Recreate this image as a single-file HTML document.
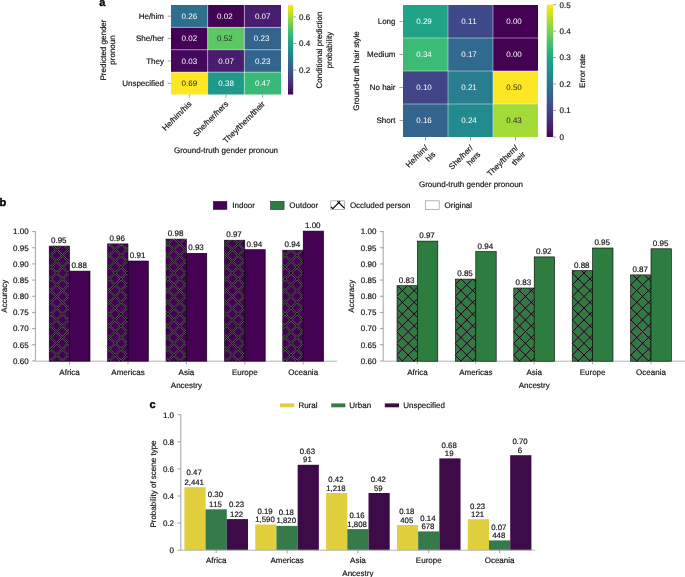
<!DOCTYPE html>
<html><head><meta charset="utf-8"><style>
html,body{margin:0;padding:0;background:#fff;width:685px;height:577px;overflow:hidden}
svg{display:block;will-change:transform}
text{font-family:"Liberation Sans", sans-serif;text-rendering:geometricPrecision;font-variant-ligatures:none;font-kerning:none;stroke:currentColor;stroke-width:0.18px} text.ns{stroke:none} text.pl{stroke-width:0.35px}
</style></head><body>
<svg width="685" height="577" viewBox="0 0 685 577" font-family='"Liberation Sans", sans-serif'><defs><linearGradient id="cb1" x1="0" y1="0" x2="0" y2="1"><stop offset="0.0000" stop-color="#fde725"/><stop offset="0.0323" stop-color="#eae51a"/><stop offset="0.0645" stop-color="#d5e21a"/><stop offset="0.0968" stop-color="#c0df25"/><stop offset="0.1290" stop-color="#a8db34"/><stop offset="0.1613" stop-color="#93d741"/><stop offset="0.1935" stop-color="#7fd34e"/><stop offset="0.2258" stop-color="#6ccd5a"/><stop offset="0.2581" stop-color="#58c765"/><stop offset="0.2903" stop-color="#48c16e"/><stop offset="0.3226" stop-color="#3aba76"/><stop offset="0.3548" stop-color="#2eb37c"/><stop offset="0.3871" stop-color="#25ab82"/><stop offset="0.4194" stop-color="#20a386"/><stop offset="0.4516" stop-color="#1e9c89"/><stop offset="0.4839" stop-color="#1f948c"/><stop offset="0.5161" stop-color="#228c8d"/><stop offset="0.5484" stop-color="#25848e"/><stop offset="0.5806" stop-color="#287d8e"/><stop offset="0.6129" stop-color="#2b758e"/><stop offset="0.6452" stop-color="#2e6d8e"/><stop offset="0.6774" stop-color="#32658e"/><stop offset="0.7097" stop-color="#365d8d"/><stop offset="0.7419" stop-color="#3a548c"/><stop offset="0.7742" stop-color="#3e4a89"/><stop offset="0.8065" stop-color="#424186"/><stop offset="0.8387" stop-color="#453882"/><stop offset="0.8710" stop-color="#472e7c"/><stop offset="0.9032" stop-color="#482374"/><stop offset="0.9355" stop-color="#48186a"/><stop offset="0.9677" stop-color="#470d60"/><stop offset="1.0000" stop-color="#440154"/></linearGradient><linearGradient id="cb2" x1="0" y1="0" x2="0" y2="1"><stop offset="0.0000" stop-color="#fde725"/><stop offset="0.0323" stop-color="#eae51a"/><stop offset="0.0645" stop-color="#d5e21a"/><stop offset="0.0968" stop-color="#c0df25"/><stop offset="0.1290" stop-color="#a8db34"/><stop offset="0.1613" stop-color="#93d741"/><stop offset="0.1935" stop-color="#7fd34e"/><stop offset="0.2258" stop-color="#6ccd5a"/><stop offset="0.2581" stop-color="#58c765"/><stop offset="0.2903" stop-color="#48c16e"/><stop offset="0.3226" stop-color="#3aba76"/><stop offset="0.3548" stop-color="#2eb37c"/><stop offset="0.3871" stop-color="#25ab82"/><stop offset="0.4194" stop-color="#20a386"/><stop offset="0.4516" stop-color="#1e9c89"/><stop offset="0.4839" stop-color="#1f948c"/><stop offset="0.5161" stop-color="#228c8d"/><stop offset="0.5484" stop-color="#25848e"/><stop offset="0.5806" stop-color="#287d8e"/><stop offset="0.6129" stop-color="#2b758e"/><stop offset="0.6452" stop-color="#2e6d8e"/><stop offset="0.6774" stop-color="#32658e"/><stop offset="0.7097" stop-color="#365d8d"/><stop offset="0.7419" stop-color="#3a548c"/><stop offset="0.7742" stop-color="#3e4a89"/><stop offset="0.8065" stop-color="#424186"/><stop offset="0.8387" stop-color="#453882"/><stop offset="0.8710" stop-color="#472e7c"/><stop offset="0.9032" stop-color="#482374"/><stop offset="0.9355" stop-color="#48186a"/><stop offset="0.9677" stop-color="#470d60"/><stop offset="1.0000" stop-color="#440154"/></linearGradient><clipPath id="hc1"><rect x="49.20" y="246.10" width="20.40" height="115.10"/></clipPath><clipPath id="hc2"><rect x="107.60" y="243.90" width="20.40" height="117.30"/></clipPath><clipPath id="hc3"><rect x="166.00" y="239.10" width="20.40" height="122.10"/></clipPath><clipPath id="hc4"><rect x="224.40" y="240.20" width="20.40" height="121.00"/></clipPath><clipPath id="hc5"><rect x="282.80" y="250.20" width="20.40" height="111.00"/></clipPath><clipPath id="hc6"><rect x="397.00" y="285.70" width="20.40" height="75.50"/></clipPath><clipPath id="hc7"><rect x="455.40" y="279.10" width="20.40" height="82.10"/></clipPath><clipPath id="hc8"><rect x="513.80" y="288.00" width="20.40" height="73.20"/></clipPath><clipPath id="hc9"><rect x="572.20" y="270.50" width="20.40" height="90.70"/></clipPath><clipPath id="hc10"><rect x="630.60" y="274.90" width="20.40" height="86.30"/></clipPath></defs><rect width="685" height="577" fill="#fff"/><rect x="171.00" y="5.00" width="36.67" height="22.38" fill="#2e6f8e"/>
<rect x="207.67" y="5.00" width="36.67" height="22.38" fill="#440256"/>
<rect x="244.33" y="5.00" width="36.67" height="22.38" fill="#481d6f"/>
<rect x="171.00" y="27.38" width="36.67" height="22.38" fill="#440256"/>
<rect x="207.67" y="27.38" width="36.67" height="22.38" fill="#5cc863"/>
<rect x="244.33" y="27.38" width="36.67" height="22.38" fill="#32648e"/>
<rect x="171.00" y="49.75" width="36.67" height="22.38" fill="#46085c"/>
<rect x="207.67" y="49.75" width="36.67" height="22.38" fill="#481d6f"/>
<rect x="244.33" y="49.75" width="36.67" height="22.38" fill="#32648e"/>
<rect x="171.00" y="72.12" width="36.67" height="22.38" fill="#fde725"/>
<rect x="207.67" y="72.12" width="36.67" height="22.38" fill="#1f9a8a"/>
<rect x="244.33" y="72.12" width="36.67" height="22.38" fill="#38b977"/>
<line x1="207.67" y1="5.00" x2="207.67" y2="94.50" stroke="rgba(255,255,255,0.75)" stroke-width="0.6"/>
<line x1="244.33" y1="5.00" x2="244.33" y2="94.50" stroke="rgba(255,255,255,0.75)" stroke-width="0.6"/>
<line x1="171.00" y1="27.38" x2="281.00" y2="27.38" stroke="rgba(255,255,255,0.75)" stroke-width="0.6"/>
<line x1="171.00" y1="49.75" x2="281.00" y2="49.75" stroke="rgba(255,255,255,0.75)" stroke-width="0.6"/>
<line x1="171.00" y1="72.12" x2="281.00" y2="72.12" stroke="rgba(255,255,255,0.75)" stroke-width="0.6"/>
<text x="189.33" y="19.09" font-size="8" text-anchor="middle" font-weight="normal" fill="#ffffff" color="#ffffff" class="ns">0.26</text>
<text x="224.90" y="19.09" font-size="8" text-anchor="middle" font-weight="normal" fill="#ffffff" color="#ffffff" class="ns">0.02</text>
<text x="262.67" y="19.09" font-size="8" text-anchor="middle" font-weight="normal" fill="#ffffff" color="#ffffff" class="ns">0.07</text>
<text x="189.33" y="41.46" font-size="8" text-anchor="middle" font-weight="normal" fill="#ffffff" color="#ffffff" class="ns">0.02</text>
<text x="224.90" y="41.46" font-size="8" text-anchor="middle" font-weight="normal" fill="#262626" color="#262626" class="ns">0.52</text>
<text x="261.57" y="41.46" font-size="8" text-anchor="middle" font-weight="normal" fill="#ffffff" color="#ffffff" class="ns">0.23</text>
<text x="189.33" y="63.84" font-size="8" text-anchor="middle" font-weight="normal" fill="#ffffff" color="#ffffff" class="ns">0.03</text>
<text x="226.10" y="63.84" font-size="8" text-anchor="middle" font-weight="normal" fill="#ffffff" color="#ffffff" class="ns">0.07</text>
<text x="262.67" y="63.84" font-size="8" text-anchor="middle" font-weight="normal" fill="#ffffff" color="#ffffff" class="ns">0.23</text>
<text x="189.33" y="86.21" font-size="8" text-anchor="middle" font-weight="normal" fill="#262626" color="#262626" class="ns">0.69</text>
<text x="226.10" y="86.21" font-size="8" text-anchor="middle" font-weight="normal" fill="#ffffff" color="#ffffff" class="ns">0.38</text>
<text x="262.67" y="86.21" font-size="8" text-anchor="middle" font-weight="normal" fill="#ffffff" color="#ffffff" class="ns">0.47</text>
<line x1="167.70" y1="16.19" x2="171.00" y2="16.19" stroke="#8c8c8c" stroke-width="0.8"/>
<text x="164.00" y="19.09" font-size="8" text-anchor="end" font-weight="normal" fill="#141414" color="#141414">He/him</text>
<line x1="167.70" y1="38.56" x2="171.00" y2="38.56" stroke="#8c8c8c" stroke-width="0.8"/>
<text x="164.00" y="41.46" font-size="8" text-anchor="end" font-weight="normal" fill="#141414" color="#141414">She/her</text>
<line x1="167.70" y1="60.94" x2="171.00" y2="60.94" stroke="#8c8c8c" stroke-width="0.8"/>
<text x="164.00" y="63.84" font-size="8" text-anchor="end" font-weight="normal" fill="#141414" color="#141414">They</text>
<line x1="167.70" y1="83.31" x2="171.00" y2="83.31" stroke="#8c8c8c" stroke-width="0.8"/>
<text x="164.00" y="86.21" font-size="8" text-anchor="end" font-weight="normal" fill="#141414" color="#141414">Unspecified</text>
<line x1="189.33" y1="94.50" x2="189.33" y2="97.70" stroke="#8c8c8c" stroke-width="0.8"/>
<text x="192.13" y="104.50" font-size="8" text-anchor="end" font-weight="normal" fill="#141414" color="#141414" transform="rotate(-45 192.13 104.50)">He/him/his</text>
<line x1="226.00" y1="94.50" x2="226.00" y2="97.70" stroke="#8c8c8c" stroke-width="0.8"/>
<text x="228.80" y="104.50" font-size="8" text-anchor="end" font-weight="normal" fill="#141414" color="#141414" transform="rotate(-45 228.80 104.50)">She/her/hers</text>
<line x1="262.67" y1="94.50" x2="262.67" y2="97.70" stroke="#8c8c8c" stroke-width="0.8"/>
<text x="265.47" y="104.50" font-size="8" text-anchor="end" font-weight="normal" fill="#141414" color="#141414" transform="rotate(-45 265.47 104.50)">They/them/their</text>
<text x="226.00" y="153.10" font-size="8" text-anchor="middle" font-weight="normal" fill="#141414" color="#141414">Ground-truth gender pronoun</text>
<text x="105.60" y="50.00" font-size="8" text-anchor="middle" font-weight="normal" fill="#141414" color="#141414" transform="rotate(-90 105.60 50.00)">Predicted gender</text>
<text x="115.40" y="50.00" font-size="8" text-anchor="middle" font-weight="normal" fill="#141414" color="#141414" transform="rotate(-90 115.40 50.00)">pronoun</text>
<rect x="288.00" y="5.00" width="5.20" height="89.50" fill="url(#cb1)"/>
<line x1="293.20" y1="70.07" x2="296.20" y2="70.07" stroke="#8c8c8c" stroke-width="0.8"/>
<text x="299.00" y="72.97" font-size="8" text-anchor="start" font-weight="normal" fill="#141414" color="#141414">0.2</text>
<line x1="293.20" y1="43.51" x2="296.20" y2="43.51" stroke="#8c8c8c" stroke-width="0.8"/>
<text x="299.00" y="46.41" font-size="8" text-anchor="start" font-weight="normal" fill="#141414" color="#141414">0.4</text>
<line x1="293.20" y1="16.95" x2="296.20" y2="16.95" stroke="#8c8c8c" stroke-width="0.8"/>
<text x="299.00" y="19.85" font-size="8" text-anchor="start" font-weight="normal" fill="#141414" color="#141414">0.6</text>
<text x="322.00" y="50.00" font-size="8" text-anchor="middle" font-weight="normal" fill="#141414" color="#141414" transform="rotate(-90 322.00 50.00)">Conditional prediction</text>
<text x="331.50" y="50.00" font-size="8" text-anchor="middle" font-weight="normal" fill="#141414" color="#141414" transform="rotate(-90 331.50 50.00)">probability</text>
<text x="102.40" y="5.80" font-size="11" text-anchor="middle" font-weight="bold" fill="#000" color="#000" class="pl">a</text>
<rect x="403.00" y="5.00" width="45.00" height="33.00" fill="#20a386"/>
<rect x="448.00" y="5.00" width="45.00" height="33.00" fill="#3e4989"/>
<rect x="493.00" y="5.00" width="45.00" height="33.00" fill="#440154"/>
<rect x="403.00" y="38.00" width="45.00" height="33.00" fill="#3bbb75"/>
<rect x="448.00" y="38.00" width="45.00" height="33.00" fill="#306a8e"/>
<rect x="493.00" y="38.00" width="45.00" height="33.00" fill="#440154"/>
<rect x="403.00" y="71.00" width="45.00" height="33.00" fill="#414487"/>
<rect x="448.00" y="71.00" width="45.00" height="33.00" fill="#287d8e"/>
<rect x="493.00" y="71.00" width="45.00" height="33.00" fill="#fde725"/>
<rect x="403.00" y="104.00" width="45.00" height="33.00" fill="#32648e"/>
<rect x="448.00" y="104.00" width="45.00" height="33.00" fill="#228b8d"/>
<rect x="493.00" y="104.00" width="45.00" height="33.00" fill="#a2da37"/>
<line x1="448.00" y1="5.00" x2="448.00" y2="137.00" stroke="rgba(255,255,255,0.75)" stroke-width="0.6"/>
<line x1="493.00" y1="5.00" x2="493.00" y2="137.00" stroke="rgba(255,255,255,0.75)" stroke-width="0.6"/>
<line x1="403.00" y1="38.00" x2="538.00" y2="38.00" stroke="rgba(255,255,255,0.75)" stroke-width="0.6"/>
<line x1="403.00" y1="71.00" x2="538.00" y2="71.00" stroke="rgba(255,255,255,0.75)" stroke-width="0.6"/>
<line x1="403.00" y1="104.00" x2="538.00" y2="104.00" stroke="rgba(255,255,255,0.75)" stroke-width="0.6"/>
<text x="424.00" y="24.40" font-size="8" text-anchor="middle" font-weight="normal" fill="#ffffff" color="#ffffff" class="ns">0.29</text>
<text x="469.00" y="24.40" font-size="8" text-anchor="middle" font-weight="normal" fill="#ffffff" color="#ffffff" class="ns">0.11</text>
<text x="514.00" y="24.40" font-size="8" text-anchor="middle" font-weight="normal" fill="#ffffff" color="#ffffff" class="ns">0.00</text>
<text x="424.00" y="57.40" font-size="8" text-anchor="middle" font-weight="normal" fill="#ffffff" color="#ffffff" class="ns">0.34</text>
<text x="469.00" y="57.40" font-size="8" text-anchor="middle" font-weight="normal" fill="#ffffff" color="#ffffff" class="ns">0.17</text>
<text x="514.00" y="57.40" font-size="8" text-anchor="middle" font-weight="normal" fill="#ffffff" color="#ffffff" class="ns">0.00</text>
<text x="424.00" y="90.40" font-size="8" text-anchor="middle" font-weight="normal" fill="#ffffff" color="#ffffff" class="ns">0.10</text>
<text x="469.00" y="90.40" font-size="8" text-anchor="middle" font-weight="normal" fill="#ffffff" color="#ffffff" class="ns">0.21</text>
<text x="514.00" y="90.40" font-size="8" text-anchor="middle" font-weight="normal" fill="#262626" color="#262626" class="ns">0.50</text>
<text x="424.00" y="123.40" font-size="8" text-anchor="middle" font-weight="normal" fill="#ffffff" color="#ffffff" class="ns">0.16</text>
<text x="469.00" y="123.40" font-size="8" text-anchor="middle" font-weight="normal" fill="#ffffff" color="#ffffff" class="ns">0.24</text>
<text x="514.00" y="123.40" font-size="8" text-anchor="middle" font-weight="normal" fill="#262626" color="#262626" class="ns">0.43</text>
<line x1="399.50" y1="21.50" x2="403.00" y2="21.50" stroke="#8c8c8c" stroke-width="0.8"/>
<text x="395.50" y="24.40" font-size="8" text-anchor="end" font-weight="normal" fill="#141414" color="#141414">Long</text>
<line x1="399.50" y1="54.50" x2="403.00" y2="54.50" stroke="#8c8c8c" stroke-width="0.8"/>
<text x="395.50" y="57.40" font-size="8" text-anchor="end" font-weight="normal" fill="#141414" color="#141414">Medium</text>
<line x1="399.50" y1="87.50" x2="403.00" y2="87.50" stroke="#8c8c8c" stroke-width="0.8"/>
<text x="395.50" y="90.40" font-size="8" text-anchor="end" font-weight="normal" fill="#141414" color="#141414">No hair</text>
<line x1="399.50" y1="120.50" x2="403.00" y2="120.50" stroke="#8c8c8c" stroke-width="0.8"/>
<text x="395.50" y="123.40" font-size="8" text-anchor="end" font-weight="normal" fill="#141414" color="#141414">Short</text>
<line x1="425.50" y1="137.00" x2="425.50" y2="140.50" stroke="#8c8c8c" stroke-width="0.8"/>
<text x="428.50" y="148.50" font-size="8" text-anchor="end" font-weight="normal" fill="#141414" color="#141414" transform="rotate(-45 428.50 148.50)">He/him/</text>
<text x="435.90" y="154.90" font-size="8" text-anchor="end" font-weight="normal" fill="#141414" color="#141414" transform="rotate(-45 435.90 154.90)">his</text>
<line x1="470.50" y1="137.00" x2="470.50" y2="140.50" stroke="#8c8c8c" stroke-width="0.8"/>
<text x="473.50" y="148.50" font-size="8" text-anchor="end" font-weight="normal" fill="#141414" color="#141414" transform="rotate(-45 473.50 148.50)">She/her/</text>
<text x="480.90" y="154.90" font-size="8" text-anchor="end" font-weight="normal" fill="#141414" color="#141414" transform="rotate(-45 480.90 154.90)">hers</text>
<line x1="515.50" y1="137.00" x2="515.50" y2="140.50" stroke="#8c8c8c" stroke-width="0.8"/>
<text x="518.50" y="148.50" font-size="8" text-anchor="end" font-weight="normal" fill="#141414" color="#141414" transform="rotate(-45 518.50 148.50)">They/them/</text>
<text x="525.90" y="154.90" font-size="8" text-anchor="end" font-weight="normal" fill="#141414" color="#141414" transform="rotate(-45 525.90 154.90)">their</text>
<text x="471.00" y="187.30" font-size="8" text-anchor="middle" font-weight="normal" fill="#141414" color="#141414">Ground-truth gender pronoun</text>
<text x="358.60" y="71.00" font-size="8" text-anchor="middle" font-weight="normal" fill="#141414" color="#141414" transform="rotate(-90 358.60 71.00)">Ground-truth hair style</text>
<rect x="546.70" y="4.60" width="6.40" height="132.40" fill="url(#cb2)"/>
<line x1="553.10" y1="137.00" x2="556.10" y2="137.00" stroke="#8c8c8c" stroke-width="0.8"/>
<text x="559.50" y="139.90" font-size="8" text-anchor="start" font-weight="normal" fill="#141414" color="#141414">0</text>
<line x1="553.10" y1="110.52" x2="556.10" y2="110.52" stroke="#8c8c8c" stroke-width="0.8"/>
<text x="559.50" y="113.42" font-size="8" text-anchor="start" font-weight="normal" fill="#141414" color="#141414">0.1</text>
<line x1="553.10" y1="84.04" x2="556.10" y2="84.04" stroke="#8c8c8c" stroke-width="0.8"/>
<text x="559.50" y="86.94" font-size="8" text-anchor="start" font-weight="normal" fill="#141414" color="#141414">0.2</text>
<line x1="553.10" y1="57.56" x2="556.10" y2="57.56" stroke="#8c8c8c" stroke-width="0.8"/>
<text x="559.50" y="60.46" font-size="8" text-anchor="start" font-weight="normal" fill="#141414" color="#141414">0.3</text>
<line x1="553.10" y1="31.08" x2="556.10" y2="31.08" stroke="#8c8c8c" stroke-width="0.8"/>
<text x="559.50" y="33.98" font-size="8" text-anchor="start" font-weight="normal" fill="#141414" color="#141414">0.4</text>
<line x1="553.10" y1="4.60" x2="556.10" y2="4.60" stroke="#8c8c8c" stroke-width="0.8"/>
<text x="559.50" y="7.50" font-size="8" text-anchor="start" font-weight="normal" fill="#141414" color="#141414">0.5</text>
<text x="584.50" y="71.00" font-size="8" text-anchor="middle" font-weight="normal" fill="#141414" color="#141414" transform="rotate(-90 584.50 71.00)">Error rate</text>
<text x="-0.40" y="206.40" font-size="11" text-anchor="start" font-weight="bold" fill="#000" color="#000" class="pl">b</text>
<rect x="213.30" y="201.40" width="13.60" height="8.10" fill="#440154" stroke="#000" stroke-opacity="0.75" stroke-width="0.6"/>
<text x="232.30" y="208.30" font-size="8" text-anchor="start" font-weight="normal" fill="#141414" color="#141414">Indoor</text>
<rect x="270.50" y="201.40" width="13.60" height="8.10" fill="#2e7d40" stroke="#000" stroke-opacity="0.75" stroke-width="0.6"/>
<text x="289.30" y="208.30" font-size="8" text-anchor="start" font-weight="normal" fill="#141414" color="#141414">Outdoor</text>
<rect x="330.8" y="200.8" width="13.8" height="8.6" fill="#fff" stroke="#999" stroke-width="0.7"/>
<g stroke="#000" stroke-width="1.1" fill="none"><path d="M331.1 206.9 L332.8 208.6 L338.8 202.6 L344.6 208.4"/><path d="M337.4 201.2 L338.8 202.6 L340.2 201.2"/></g>
<text x="349.90" y="208.30" font-size="8" text-anchor="start" font-weight="normal" fill="#141414" color="#141414">Occluded person</text>
<rect x="425.6" y="200.8" width="13.6" height="8.6" fill="#fff" stroke="#999" stroke-width="0.7"/>
<text x="444.50" y="208.30" font-size="8" text-anchor="start" font-weight="normal" fill="#141414" color="#141414">Original</text>
<line x1="35.40" y1="231.10" x2="35.40" y2="361.20" stroke="#8c8c8c" stroke-width="0.8"/>
<line x1="35.40" y1="361.20" x2="337.40" y2="361.20" stroke="#b4b4b4" stroke-width="1.0"/>
<line x1="32.10" y1="360.90" x2="35.40" y2="360.90" stroke="#8c8c8c" stroke-width="0.8"/>
<text x="28.60" y="363.70" font-size="8" text-anchor="end" font-weight="normal" fill="#141414" color="#141414">0.60</text>
<line x1="32.10" y1="344.74" x2="35.40" y2="344.74" stroke="#8c8c8c" stroke-width="0.8"/>
<text x="28.60" y="347.54" font-size="8" text-anchor="end" font-weight="normal" fill="#141414" color="#141414">0.65</text>
<line x1="32.10" y1="328.57" x2="35.40" y2="328.57" stroke="#8c8c8c" stroke-width="0.8"/>
<text x="28.60" y="331.38" font-size="8" text-anchor="end" font-weight="normal" fill="#141414" color="#141414">0.70</text>
<line x1="32.10" y1="312.41" x2="35.40" y2="312.41" stroke="#8c8c8c" stroke-width="0.8"/>
<text x="28.60" y="315.21" font-size="8" text-anchor="end" font-weight="normal" fill="#141414" color="#141414">0.75</text>
<line x1="32.10" y1="296.25" x2="35.40" y2="296.25" stroke="#8c8c8c" stroke-width="0.8"/>
<text x="28.60" y="299.05" font-size="8" text-anchor="end" font-weight="normal" fill="#141414" color="#141414">0.80</text>
<line x1="32.10" y1="280.09" x2="35.40" y2="280.09" stroke="#8c8c8c" stroke-width="0.8"/>
<text x="28.60" y="282.89" font-size="8" text-anchor="end" font-weight="normal" fill="#141414" color="#141414">0.85</text>
<line x1="32.10" y1="263.92" x2="35.40" y2="263.92" stroke="#8c8c8c" stroke-width="0.8"/>
<text x="28.60" y="266.72" font-size="8" text-anchor="end" font-weight="normal" fill="#141414" color="#141414">0.90</text>
<line x1="32.10" y1="247.76" x2="35.40" y2="247.76" stroke="#8c8c8c" stroke-width="0.8"/>
<text x="28.60" y="250.56" font-size="8" text-anchor="end" font-weight="normal" fill="#141414" color="#141414">0.95</text>
<line x1="32.10" y1="231.60" x2="35.40" y2="231.60" stroke="#8c8c8c" stroke-width="0.8"/>
<text x="28.60" y="234.40" font-size="8" text-anchor="end" font-weight="normal" fill="#141414" color="#141414">1.00</text>
<rect x="49.20" y="246.10" width="20.40" height="115.10" fill="#440154" stroke="#000" stroke-width="0.6"/>
<g clip-path="url(#hc1)" fill="none"><path d="M46.20 379.84L72.60 406.24M46.20 368.12L72.60 394.52M46.20 356.40L72.60 382.80M46.20 344.68L72.60 371.08M46.20 332.96L72.60 359.36M46.20 321.24L72.60 347.64M46.20 309.52L72.60 335.92M46.20 297.80L72.60 324.20M46.20 286.08L72.60 312.48M46.20 274.36L72.60 300.76M46.20 262.64L72.60 289.04M46.20 250.92L72.60 277.32M46.20 239.20L72.60 265.60M46.20 227.48L72.60 253.88M46.20 215.76L72.60 242.16M46.20 204.04L72.60 230.44M46.20 236.56L72.60 210.16M46.20 248.28L72.60 221.88M46.20 260.00L72.60 233.60M46.20 271.72L72.60 245.32M46.20 283.44L72.60 257.04M46.20 295.16L72.60 268.76M46.20 306.88L72.60 280.48M46.20 318.60L72.60 292.20M46.20 330.32L72.60 303.92M46.20 342.04L72.60 315.64M46.20 353.76L72.60 327.36M46.20 365.48L72.60 339.08M46.20 377.20L72.60 350.80M46.20 388.92L72.60 362.52M46.20 400.64L72.60 374.24" stroke="#606060" stroke-opacity="1" stroke-width="1.9"/><path d="M46.20 379.84L72.60 406.24M46.20 368.12L72.60 394.52M46.20 356.40L72.60 382.80M46.20 344.68L72.60 371.08M46.20 332.96L72.60 359.36M46.20 321.24L72.60 347.64M46.20 309.52L72.60 335.92M46.20 297.80L72.60 324.20M46.20 286.08L72.60 312.48M46.20 274.36L72.60 300.76M46.20 262.64L72.60 289.04M46.20 250.92L72.60 277.32M46.20 239.20L72.60 265.60M46.20 227.48L72.60 253.88M46.20 215.76L72.60 242.16M46.20 204.04L72.60 230.44M46.20 236.56L72.60 210.16M46.20 248.28L72.60 221.88M46.20 260.00L72.60 233.60M46.20 271.72L72.60 245.32M46.20 283.44L72.60 257.04M46.20 295.16L72.60 268.76M46.20 306.88L72.60 280.48M46.20 318.60L72.60 292.20M46.20 330.32L72.60 303.92M46.20 342.04L72.60 315.64M46.20 353.76L72.60 327.36M46.20 365.48L72.60 339.08M46.20 377.20L72.60 350.80M46.20 388.92L72.60 362.52M46.20 400.64L72.60 374.24" stroke="#000" stroke-width="0.9"/></g>
<rect x="69.60" y="271.10" width="20.40" height="90.10" fill="#440154" stroke="#000" stroke-width="0.6"/>
<text x="58.80" y="243.10" font-size="8" text-anchor="middle" font-weight="normal" fill="#141414" color="#141414">0.95</text>
<text x="79.20" y="268.10" font-size="8" text-anchor="middle" font-weight="normal" fill="#141414" color="#141414">0.88</text>
<line x1="69.60" y1="361.20" x2="69.60" y2="364.30" stroke="#8c8c8c" stroke-width="0.8"/>
<rect x="107.60" y="243.90" width="20.40" height="117.30" fill="#440154" stroke="#000" stroke-width="0.6"/>
<g clip-path="url(#hc2)" fill="none"><path d="M104.60 379.64L131.00 406.04M104.60 367.92L131.00 394.32M104.60 356.20L131.00 382.60M104.60 344.48L131.00 370.88M104.60 332.76L131.00 359.16M104.60 321.04L131.00 347.44M104.60 309.32L131.00 335.72M104.60 297.60L131.00 324.00M104.60 285.88L131.00 312.28M104.60 274.16L131.00 300.56M104.60 262.44L131.00 288.84M104.60 250.72L131.00 277.12M104.60 239.00L131.00 265.40M104.60 227.28L131.00 253.68M104.60 215.56L131.00 241.96M104.60 203.84L131.00 230.24M104.60 225.04L131.00 198.64M104.60 236.76L131.00 210.36M104.60 248.48L131.00 222.08M104.60 260.20L131.00 233.80M104.60 271.92L131.00 245.52M104.60 283.64L131.00 257.24M104.60 295.36L131.00 268.96M104.60 307.08L131.00 280.68M104.60 318.80L131.00 292.40M104.60 330.52L131.00 304.12M104.60 342.24L131.00 315.84M104.60 353.96L131.00 327.56M104.60 365.68L131.00 339.28M104.60 377.40L131.00 351.00M104.60 389.12L131.00 362.72M104.60 400.84L131.00 374.44" stroke="#606060" stroke-opacity="1" stroke-width="1.9"/><path d="M104.60 379.64L131.00 406.04M104.60 367.92L131.00 394.32M104.60 356.20L131.00 382.60M104.60 344.48L131.00 370.88M104.60 332.76L131.00 359.16M104.60 321.04L131.00 347.44M104.60 309.32L131.00 335.72M104.60 297.60L131.00 324.00M104.60 285.88L131.00 312.28M104.60 274.16L131.00 300.56M104.60 262.44L131.00 288.84M104.60 250.72L131.00 277.12M104.60 239.00L131.00 265.40M104.60 227.28L131.00 253.68M104.60 215.56L131.00 241.96M104.60 203.84L131.00 230.24M104.60 225.04L131.00 198.64M104.60 236.76L131.00 210.36M104.60 248.48L131.00 222.08M104.60 260.20L131.00 233.80M104.60 271.92L131.00 245.52M104.60 283.64L131.00 257.24M104.60 295.36L131.00 268.96M104.60 307.08L131.00 280.68M104.60 318.80L131.00 292.40M104.60 330.52L131.00 304.12M104.60 342.24L131.00 315.84M104.60 353.96L131.00 327.56M104.60 365.68L131.00 339.28M104.60 377.40L131.00 351.00M104.60 389.12L131.00 362.72M104.60 400.84L131.00 374.44" stroke="#000" stroke-width="0.9"/></g>
<rect x="128.00" y="261.00" width="20.40" height="100.20" fill="#440154" stroke="#000" stroke-width="0.6"/>
<text x="117.20" y="240.90" font-size="8" text-anchor="middle" font-weight="normal" fill="#141414" color="#141414">0.96</text>
<text x="137.60" y="258.00" font-size="8" text-anchor="middle" font-weight="normal" fill="#141414" color="#141414">0.91</text>
<line x1="128.00" y1="361.20" x2="128.00" y2="364.30" stroke="#8c8c8c" stroke-width="0.8"/>
<rect x="166.00" y="239.10" width="20.40" height="122.10" fill="#440154" stroke="#000" stroke-width="0.6"/>
<g clip-path="url(#hc3)" fill="none"><path d="M163.00 379.44L189.40 405.84M163.00 367.72L189.40 394.12M163.00 356.00L189.40 382.40M163.00 344.28L189.40 370.68M163.00 332.56L189.40 358.96M163.00 320.84L189.40 347.24M163.00 309.12L189.40 335.52M163.00 297.40L189.40 323.80M163.00 285.68L189.40 312.08M163.00 273.96L189.40 300.36M163.00 262.24L189.40 288.64M163.00 250.52L189.40 276.92M163.00 238.80L189.40 265.20M163.00 227.08L189.40 253.48M163.00 215.36L189.40 241.76M163.00 203.64L189.40 230.04M163.00 225.24L189.40 198.84M163.00 236.96L189.40 210.56M163.00 248.68L189.40 222.28M163.00 260.40L189.40 234.00M163.00 272.12L189.40 245.72M163.00 283.84L189.40 257.44M163.00 295.56L189.40 269.16M163.00 307.28L189.40 280.88M163.00 319.00L189.40 292.60M163.00 330.72L189.40 304.32M163.00 342.44L189.40 316.04M163.00 354.16L189.40 327.76M163.00 365.88L189.40 339.48M163.00 377.60L189.40 351.20M163.00 389.32L189.40 362.92M163.00 401.04L189.40 374.64" stroke="#606060" stroke-opacity="1" stroke-width="1.9"/><path d="M163.00 379.44L189.40 405.84M163.00 367.72L189.40 394.12M163.00 356.00L189.40 382.40M163.00 344.28L189.40 370.68M163.00 332.56L189.40 358.96M163.00 320.84L189.40 347.24M163.00 309.12L189.40 335.52M163.00 297.40L189.40 323.80M163.00 285.68L189.40 312.08M163.00 273.96L189.40 300.36M163.00 262.24L189.40 288.64M163.00 250.52L189.40 276.92M163.00 238.80L189.40 265.20M163.00 227.08L189.40 253.48M163.00 215.36L189.40 241.76M163.00 203.64L189.40 230.04M163.00 225.24L189.40 198.84M163.00 236.96L189.40 210.56M163.00 248.68L189.40 222.28M163.00 260.40L189.40 234.00M163.00 272.12L189.40 245.72M163.00 283.84L189.40 257.44M163.00 295.56L189.40 269.16M163.00 307.28L189.40 280.88M163.00 319.00L189.40 292.60M163.00 330.72L189.40 304.32M163.00 342.44L189.40 316.04M163.00 354.16L189.40 327.76M163.00 365.88L189.40 339.48M163.00 377.60L189.40 351.20M163.00 389.32L189.40 362.92M163.00 401.04L189.40 374.64" stroke="#000" stroke-width="0.9"/></g>
<rect x="186.40" y="253.30" width="20.40" height="107.90" fill="#440154" stroke="#000" stroke-width="0.6"/>
<text x="175.60" y="236.10" font-size="8" text-anchor="middle" font-weight="normal" fill="#141414" color="#141414">0.98</text>
<text x="196.00" y="250.30" font-size="8" text-anchor="middle" font-weight="normal" fill="#141414" color="#141414">0.93</text>
<line x1="186.40" y1="361.20" x2="186.40" y2="364.30" stroke="#8c8c8c" stroke-width="0.8"/>
<rect x="224.40" y="240.20" width="20.40" height="121.00" fill="#440154" stroke="#000" stroke-width="0.6"/>
<g clip-path="url(#hc4)" fill="none"><path d="M221.40 379.24L247.80 405.64M221.40 367.52L247.80 393.92M221.40 355.80L247.80 382.20M221.40 344.08L247.80 370.48M221.40 332.36L247.80 358.76M221.40 320.64L247.80 347.04M221.40 308.92L247.80 335.32M221.40 297.20L247.80 323.60M221.40 285.48L247.80 311.88M221.40 273.76L247.80 300.16M221.40 262.04L247.80 288.44M221.40 250.32L247.80 276.72M221.40 238.60L247.80 265.00M221.40 226.88L247.80 253.28M221.40 215.16L247.80 241.56M221.40 203.44L247.80 229.84M221.40 225.44L247.80 199.04M221.40 237.16L247.80 210.76M221.40 248.88L247.80 222.48M221.40 260.60L247.80 234.20M221.40 272.32L247.80 245.92M221.40 284.04L247.80 257.64M221.40 295.76L247.80 269.36M221.40 307.48L247.80 281.08M221.40 319.20L247.80 292.80M221.40 330.92L247.80 304.52M221.40 342.64L247.80 316.24M221.40 354.36L247.80 327.96M221.40 366.08L247.80 339.68M221.40 377.80L247.80 351.40M221.40 389.52L247.80 363.12M221.40 401.24L247.80 374.84" stroke="#606060" stroke-opacity="1" stroke-width="1.9"/><path d="M221.40 379.24L247.80 405.64M221.40 367.52L247.80 393.92M221.40 355.80L247.80 382.20M221.40 344.08L247.80 370.48M221.40 332.36L247.80 358.76M221.40 320.64L247.80 347.04M221.40 308.92L247.80 335.32M221.40 297.20L247.80 323.60M221.40 285.48L247.80 311.88M221.40 273.76L247.80 300.16M221.40 262.04L247.80 288.44M221.40 250.32L247.80 276.72M221.40 238.60L247.80 265.00M221.40 226.88L247.80 253.28M221.40 215.16L247.80 241.56M221.40 203.44L247.80 229.84M221.40 225.44L247.80 199.04M221.40 237.16L247.80 210.76M221.40 248.88L247.80 222.48M221.40 260.60L247.80 234.20M221.40 272.32L247.80 245.92M221.40 284.04L247.80 257.64M221.40 295.76L247.80 269.36M221.40 307.48L247.80 281.08M221.40 319.20L247.80 292.80M221.40 330.92L247.80 304.52M221.40 342.64L247.80 316.24M221.40 354.36L247.80 327.96M221.40 366.08L247.80 339.68M221.40 377.80L247.80 351.40M221.40 389.52L247.80 363.12M221.40 401.24L247.80 374.84" stroke="#000" stroke-width="0.9"/></g>
<rect x="244.80" y="249.70" width="20.40" height="111.50" fill="#440154" stroke="#000" stroke-width="0.6"/>
<text x="234.00" y="237.20" font-size="8" text-anchor="middle" font-weight="normal" fill="#141414" color="#141414">0.97</text>
<text x="254.40" y="246.70" font-size="8" text-anchor="middle" font-weight="normal" fill="#141414" color="#141414">0.94</text>
<line x1="244.80" y1="361.20" x2="244.80" y2="364.30" stroke="#8c8c8c" stroke-width="0.8"/>
<rect x="282.80" y="250.20" width="20.40" height="111.00" fill="#440154" stroke="#000" stroke-width="0.6"/>
<g clip-path="url(#hc5)" fill="none"><path d="M279.80 379.04L306.20 405.44M279.80 367.32L306.20 393.72M279.80 355.60L306.20 382.00M279.80 343.88L306.20 370.28M279.80 332.16L306.20 358.56M279.80 320.44L306.20 346.84M279.80 308.72L306.20 335.12M279.80 297.00L306.20 323.40M279.80 285.28L306.20 311.68M279.80 273.56L306.20 299.96M279.80 261.84L306.20 288.24M279.80 250.12L306.20 276.52M279.80 238.40L306.20 264.80M279.80 226.68L306.20 253.08M279.80 214.96L306.20 241.36M279.80 237.36L306.20 210.96M279.80 249.08L306.20 222.68M279.80 260.80L306.20 234.40M279.80 272.52L306.20 246.12M279.80 284.24L306.20 257.84M279.80 295.96L306.20 269.56M279.80 307.68L306.20 281.28M279.80 319.40L306.20 293.00M279.80 331.12L306.20 304.72M279.80 342.84L306.20 316.44M279.80 354.56L306.20 328.16M279.80 366.28L306.20 339.88M279.80 378.00L306.20 351.60M279.80 389.72L306.20 363.32M279.80 401.44L306.20 375.04" stroke="#606060" stroke-opacity="1" stroke-width="1.9"/><path d="M279.80 379.04L306.20 405.44M279.80 367.32L306.20 393.72M279.80 355.60L306.20 382.00M279.80 343.88L306.20 370.28M279.80 332.16L306.20 358.56M279.80 320.44L306.20 346.84M279.80 308.72L306.20 335.12M279.80 297.00L306.20 323.40M279.80 285.28L306.20 311.68M279.80 273.56L306.20 299.96M279.80 261.84L306.20 288.24M279.80 250.12L306.20 276.52M279.80 238.40L306.20 264.80M279.80 226.68L306.20 253.08M279.80 214.96L306.20 241.36M279.80 237.36L306.20 210.96M279.80 249.08L306.20 222.68M279.80 260.80L306.20 234.40M279.80 272.52L306.20 246.12M279.80 284.24L306.20 257.84M279.80 295.96L306.20 269.56M279.80 307.68L306.20 281.28M279.80 319.40L306.20 293.00M279.80 331.12L306.20 304.72M279.80 342.84L306.20 316.44M279.80 354.56L306.20 328.16M279.80 366.28L306.20 339.88M279.80 378.00L306.20 351.60M279.80 389.72L306.20 363.32M279.80 401.44L306.20 375.04" stroke="#000" stroke-width="0.9"/></g>
<rect x="303.20" y="231.10" width="20.40" height="130.10" fill="#440154" stroke="#000" stroke-width="0.6"/>
<text x="292.40" y="247.20" font-size="8" text-anchor="middle" font-weight="normal" fill="#141414" color="#141414">0.94</text>
<text x="312.80" y="228.10" font-size="8" text-anchor="middle" font-weight="normal" fill="#141414" color="#141414">1.00</text>
<line x1="303.20" y1="361.20" x2="303.20" y2="364.30" stroke="#8c8c8c" stroke-width="0.8"/>
<text x="69.60" y="374.60" font-size="8" text-anchor="middle" font-weight="normal" fill="#141414" color="#141414">Africa</text>
<text x="128.00" y="374.60" font-size="8" text-anchor="middle" font-weight="normal" fill="#141414" color="#141414">Americas</text>
<text x="186.40" y="374.60" font-size="8" text-anchor="middle" font-weight="normal" fill="#141414" color="#141414">Asia</text>
<text x="244.80" y="374.60" font-size="8" text-anchor="middle" font-weight="normal" fill="#141414" color="#141414">Europe</text>
<text x="303.20" y="374.60" font-size="8" text-anchor="middle" font-weight="normal" fill="#141414" color="#141414">Oceania</text>
<text x="186.40" y="387.70" font-size="8" text-anchor="middle" font-weight="normal" fill="#141414" color="#141414">Ancestry</text>
<text x="6.90" y="296.20" font-size="8" text-anchor="middle" font-weight="normal" fill="#141414" color="#141414" transform="rotate(-90 6.90 296.20)">Accuracy</text>
<line x1="383.20" y1="231.10" x2="383.20" y2="361.20" stroke="#8c8c8c" stroke-width="0.8"/>
<line x1="383.20" y1="361.20" x2="685.20" y2="361.20" stroke="#b4b4b4" stroke-width="1.0"/>
<line x1="379.90" y1="360.90" x2="383.20" y2="360.90" stroke="#8c8c8c" stroke-width="0.8"/>
<text x="376.40" y="363.70" font-size="8" text-anchor="end" font-weight="normal" fill="#141414" color="#141414">0.60</text>
<line x1="379.90" y1="344.74" x2="383.20" y2="344.74" stroke="#8c8c8c" stroke-width="0.8"/>
<text x="376.40" y="347.54" font-size="8" text-anchor="end" font-weight="normal" fill="#141414" color="#141414">0.65</text>
<line x1="379.90" y1="328.57" x2="383.20" y2="328.57" stroke="#8c8c8c" stroke-width="0.8"/>
<text x="376.40" y="331.38" font-size="8" text-anchor="end" font-weight="normal" fill="#141414" color="#141414">0.70</text>
<line x1="379.90" y1="312.41" x2="383.20" y2="312.41" stroke="#8c8c8c" stroke-width="0.8"/>
<text x="376.40" y="315.21" font-size="8" text-anchor="end" font-weight="normal" fill="#141414" color="#141414">0.75</text>
<line x1="379.90" y1="296.25" x2="383.20" y2="296.25" stroke="#8c8c8c" stroke-width="0.8"/>
<text x="376.40" y="299.05" font-size="8" text-anchor="end" font-weight="normal" fill="#141414" color="#141414">0.80</text>
<line x1="379.90" y1="280.09" x2="383.20" y2="280.09" stroke="#8c8c8c" stroke-width="0.8"/>
<text x="376.40" y="282.89" font-size="8" text-anchor="end" font-weight="normal" fill="#141414" color="#141414">0.85</text>
<line x1="379.90" y1="263.92" x2="383.20" y2="263.92" stroke="#8c8c8c" stroke-width="0.8"/>
<text x="376.40" y="266.72" font-size="8" text-anchor="end" font-weight="normal" fill="#141414" color="#141414">0.90</text>
<line x1="379.90" y1="247.76" x2="383.20" y2="247.76" stroke="#8c8c8c" stroke-width="0.8"/>
<text x="376.40" y="250.56" font-size="8" text-anchor="end" font-weight="normal" fill="#141414" color="#141414">0.95</text>
<line x1="379.90" y1="231.60" x2="383.20" y2="231.60" stroke="#8c8c8c" stroke-width="0.8"/>
<text x="376.40" y="234.40" font-size="8" text-anchor="end" font-weight="normal" fill="#141414" color="#141414">1.00</text>
<rect x="397.00" y="285.70" width="20.40" height="75.50" fill="#2e7d40" stroke="#000" stroke-width="0.6"/>
<g clip-path="url(#hc6)" fill="none"><path d="M394.00 376.04L420.40 402.44M394.00 364.32L420.40 390.72M394.00 352.60L420.40 379.00M394.00 340.88L420.40 367.28M394.00 329.16L420.40 355.56M394.00 317.44L420.40 343.84M394.00 305.72L420.40 332.12M394.00 294.00L420.40 320.40M394.00 282.28L420.40 308.68M394.00 270.56L420.40 296.96M394.00 258.84L420.40 285.24M394.00 247.12L420.40 273.52M394.00 275.52L420.40 249.12M394.00 287.24L420.40 260.84M394.00 298.96L420.40 272.56M394.00 310.68L420.40 284.28M394.00 322.40L420.40 296.00M394.00 334.12L420.40 307.72M394.00 345.84L420.40 319.44M394.00 357.56L420.40 331.16M394.00 369.28L420.40 342.88M394.00 381.00L420.40 354.60M394.00 392.72L420.40 366.32M394.00 404.44L420.40 378.04" stroke="#606060" stroke-opacity="1" stroke-width="1.9"/><path d="M394.00 376.04L420.40 402.44M394.00 364.32L420.40 390.72M394.00 352.60L420.40 379.00M394.00 340.88L420.40 367.28M394.00 329.16L420.40 355.56M394.00 317.44L420.40 343.84M394.00 305.72L420.40 332.12M394.00 294.00L420.40 320.40M394.00 282.28L420.40 308.68M394.00 270.56L420.40 296.96M394.00 258.84L420.40 285.24M394.00 247.12L420.40 273.52M394.00 275.52L420.40 249.12M394.00 287.24L420.40 260.84M394.00 298.96L420.40 272.56M394.00 310.68L420.40 284.28M394.00 322.40L420.40 296.00M394.00 334.12L420.40 307.72M394.00 345.84L420.40 319.44M394.00 357.56L420.40 331.16M394.00 369.28L420.40 342.88M394.00 381.00L420.40 354.60M394.00 392.72L420.40 366.32M394.00 404.44L420.40 378.04" stroke="#000" stroke-width="0.9"/></g>
<rect x="417.40" y="241.10" width="20.40" height="120.10" fill="#2e7d40" stroke="#000" stroke-width="0.6"/>
<text x="406.60" y="282.70" font-size="8" text-anchor="middle" font-weight="normal" fill="#141414" color="#141414">0.83</text>
<text x="427.00" y="238.10" font-size="8" text-anchor="middle" font-weight="normal" fill="#141414" color="#141414">0.97</text>
<line x1="417.40" y1="361.20" x2="417.40" y2="364.30" stroke="#8c8c8c" stroke-width="0.8"/>
<rect x="455.40" y="279.10" width="20.40" height="82.10" fill="#2e7d40" stroke="#000" stroke-width="0.6"/>
<g clip-path="url(#hc7)" fill="none"><path d="M452.40 375.84L478.80 402.24M452.40 364.12L478.80 390.52M452.40 352.40L478.80 378.80M452.40 340.68L478.80 367.08M452.40 328.96L478.80 355.36M452.40 317.24L478.80 343.64M452.40 305.52L478.80 331.92M452.40 293.80L478.80 320.20M452.40 282.08L478.80 308.48M452.40 270.36L478.80 296.76M452.40 258.64L478.80 285.04M452.40 246.92L478.80 273.32M452.40 235.20L478.80 261.60M452.40 264.00L478.80 237.60M452.40 275.72L478.80 249.32M452.40 287.44L478.80 261.04M452.40 299.16L478.80 272.76M452.40 310.88L478.80 284.48M452.40 322.60L478.80 296.20M452.40 334.32L478.80 307.92M452.40 346.04L478.80 319.64M452.40 357.76L478.80 331.36M452.40 369.48L478.80 343.08M452.40 381.20L478.80 354.80M452.40 392.92L478.80 366.52M452.40 404.64L478.80 378.24" stroke="#606060" stroke-opacity="1" stroke-width="1.9"/><path d="M452.40 375.84L478.80 402.24M452.40 364.12L478.80 390.52M452.40 352.40L478.80 378.80M452.40 340.68L478.80 367.08M452.40 328.96L478.80 355.36M452.40 317.24L478.80 343.64M452.40 305.52L478.80 331.92M452.40 293.80L478.80 320.20M452.40 282.08L478.80 308.48M452.40 270.36L478.80 296.76M452.40 258.64L478.80 285.04M452.40 246.92L478.80 273.32M452.40 235.20L478.80 261.60M452.40 264.00L478.80 237.60M452.40 275.72L478.80 249.32M452.40 287.44L478.80 261.04M452.40 299.16L478.80 272.76M452.40 310.88L478.80 284.48M452.40 322.60L478.80 296.20M452.40 334.32L478.80 307.92M452.40 346.04L478.80 319.64M452.40 357.76L478.80 331.36M452.40 369.48L478.80 343.08M452.40 381.20L478.80 354.80M452.40 392.92L478.80 366.52M452.40 404.64L478.80 378.24" stroke="#000" stroke-width="0.9"/></g>
<rect x="475.80" y="251.60" width="20.40" height="109.60" fill="#2e7d40" stroke="#000" stroke-width="0.6"/>
<text x="465.00" y="276.10" font-size="8" text-anchor="middle" font-weight="normal" fill="#141414" color="#141414">0.85</text>
<text x="485.40" y="248.60" font-size="8" text-anchor="middle" font-weight="normal" fill="#141414" color="#141414">0.94</text>
<line x1="475.80" y1="361.20" x2="475.80" y2="364.30" stroke="#8c8c8c" stroke-width="0.8"/>
<rect x="513.80" y="288.00" width="20.40" height="73.20" fill="#2e7d40" stroke="#000" stroke-width="0.6"/>
<g clip-path="url(#hc8)" fill="none"><path d="M510.80 375.64L537.20 402.04M510.80 363.92L537.20 390.32M510.80 352.20L537.20 378.60M510.80 340.48L537.20 366.88M510.80 328.76L537.20 355.16M510.80 317.04L537.20 343.44M510.80 305.32L537.20 331.72M510.80 293.60L537.20 320.00M510.80 281.88L537.20 308.28M510.80 270.16L537.20 296.56M510.80 258.44L537.20 284.84M510.80 246.72L537.20 273.12M510.80 275.92L537.20 249.52M510.80 287.64L537.20 261.24M510.80 299.36L537.20 272.96M510.80 311.08L537.20 284.68M510.80 322.80L537.20 296.40M510.80 334.52L537.20 308.12M510.80 346.24L537.20 319.84M510.80 357.96L537.20 331.56M510.80 369.68L537.20 343.28M510.80 381.40L537.20 355.00M510.80 393.12L537.20 366.72M510.80 404.84L537.20 378.44" stroke="#606060" stroke-opacity="1" stroke-width="1.9"/><path d="M510.80 375.64L537.20 402.04M510.80 363.92L537.20 390.32M510.80 352.20L537.20 378.60M510.80 340.48L537.20 366.88M510.80 328.76L537.20 355.16M510.80 317.04L537.20 343.44M510.80 305.32L537.20 331.72M510.80 293.60L537.20 320.00M510.80 281.88L537.20 308.28M510.80 270.16L537.20 296.56M510.80 258.44L537.20 284.84M510.80 246.72L537.20 273.12M510.80 275.92L537.20 249.52M510.80 287.64L537.20 261.24M510.80 299.36L537.20 272.96M510.80 311.08L537.20 284.68M510.80 322.80L537.20 296.40M510.80 334.52L537.20 308.12M510.80 346.24L537.20 319.84M510.80 357.96L537.20 331.56M510.80 369.68L537.20 343.28M510.80 381.40L537.20 355.00M510.80 393.12L537.20 366.72M510.80 404.84L537.20 378.44" stroke="#000" stroke-width="0.9"/></g>
<rect x="534.20" y="256.90" width="20.40" height="104.30" fill="#2e7d40" stroke="#000" stroke-width="0.6"/>
<text x="523.40" y="285.00" font-size="8" text-anchor="middle" font-weight="normal" fill="#141414" color="#141414">0.83</text>
<text x="543.80" y="253.90" font-size="8" text-anchor="middle" font-weight="normal" fill="#141414" color="#141414">0.92</text>
<line x1="534.20" y1="361.20" x2="534.20" y2="364.30" stroke="#8c8c8c" stroke-width="0.8"/>
<rect x="572.20" y="270.50" width="20.40" height="90.70" fill="#2e7d40" stroke="#000" stroke-width="0.6"/>
<g clip-path="url(#hc9)" fill="none"><path d="M569.20 375.44L595.60 401.84M569.20 363.72L595.60 390.12M569.20 352.00L595.60 378.40M569.20 340.28L595.60 366.68M569.20 328.56L595.60 354.96M569.20 316.84L595.60 343.24M569.20 305.12L595.60 331.52M569.20 293.40L595.60 319.80M569.20 281.68L595.60 308.08M569.20 269.96L595.60 296.36M569.20 258.24L595.60 284.64M569.20 246.52L595.60 272.92M569.20 234.80L595.60 261.20M569.20 252.68L595.60 226.28M569.20 264.40L595.60 238.00M569.20 276.12L595.60 249.72M569.20 287.84L595.60 261.44M569.20 299.56L595.60 273.16M569.20 311.28L595.60 284.88M569.20 323.00L595.60 296.60M569.20 334.72L595.60 308.32M569.20 346.44L595.60 320.04M569.20 358.16L595.60 331.76M569.20 369.88L595.60 343.48M569.20 381.60L595.60 355.20M569.20 393.32L595.60 366.92M569.20 405.04L595.60 378.64" stroke="#606060" stroke-opacity="1" stroke-width="1.9"/><path d="M569.20 375.44L595.60 401.84M569.20 363.72L595.60 390.12M569.20 352.00L595.60 378.40M569.20 340.28L595.60 366.68M569.20 328.56L595.60 354.96M569.20 316.84L595.60 343.24M569.20 305.12L595.60 331.52M569.20 293.40L595.60 319.80M569.20 281.68L595.60 308.08M569.20 269.96L595.60 296.36M569.20 258.24L595.60 284.64M569.20 246.52L595.60 272.92M569.20 234.80L595.60 261.20M569.20 252.68L595.60 226.28M569.20 264.40L595.60 238.00M569.20 276.12L595.60 249.72M569.20 287.84L595.60 261.44M569.20 299.56L595.60 273.16M569.20 311.28L595.60 284.88M569.20 323.00L595.60 296.60M569.20 334.72L595.60 308.32M569.20 346.44L595.60 320.04M569.20 358.16L595.60 331.76M569.20 369.88L595.60 343.48M569.20 381.60L595.60 355.20M569.20 393.32L595.60 366.92M569.20 405.04L595.60 378.64" stroke="#000" stroke-width="0.9"/></g>
<rect x="592.60" y="248.00" width="20.40" height="113.20" fill="#2e7d40" stroke="#000" stroke-width="0.6"/>
<text x="581.80" y="267.50" font-size="8" text-anchor="middle" font-weight="normal" fill="#141414" color="#141414">0.88</text>
<text x="602.20" y="245.00" font-size="8" text-anchor="middle" font-weight="normal" fill="#141414" color="#141414">0.95</text>
<line x1="592.60" y1="361.20" x2="592.60" y2="364.30" stroke="#8c8c8c" stroke-width="0.8"/>
<rect x="630.60" y="274.90" width="20.40" height="86.30" fill="#2e7d40" stroke="#000" stroke-width="0.6"/>
<g clip-path="url(#hc10)" fill="none"><path d="M627.60 375.24L654.00 401.64M627.60 363.52L654.00 389.92M627.60 351.80L654.00 378.20M627.60 340.08L654.00 366.48M627.60 328.36L654.00 354.76M627.60 316.64L654.00 343.04M627.60 304.92L654.00 331.32M627.60 293.20L654.00 319.60M627.60 281.48L654.00 307.88M627.60 269.76L654.00 296.16M627.60 258.04L654.00 284.44M627.60 246.32L654.00 272.72M627.60 234.60L654.00 261.00M627.60 264.60L654.00 238.20M627.60 276.32L654.00 249.92M627.60 288.04L654.00 261.64M627.60 299.76L654.00 273.36M627.60 311.48L654.00 285.08M627.60 323.20L654.00 296.80M627.60 334.92L654.00 308.52M627.60 346.64L654.00 320.24M627.60 358.36L654.00 331.96M627.60 370.08L654.00 343.68M627.60 381.80L654.00 355.40M627.60 393.52L654.00 367.12M627.60 405.24L654.00 378.84" stroke="#606060" stroke-opacity="1" stroke-width="1.9"/><path d="M627.60 375.24L654.00 401.64M627.60 363.52L654.00 389.92M627.60 351.80L654.00 378.20M627.60 340.08L654.00 366.48M627.60 328.36L654.00 354.76M627.60 316.64L654.00 343.04M627.60 304.92L654.00 331.32M627.60 293.20L654.00 319.60M627.60 281.48L654.00 307.88M627.60 269.76L654.00 296.16M627.60 258.04L654.00 284.44M627.60 246.32L654.00 272.72M627.60 234.60L654.00 261.00M627.60 264.60L654.00 238.20M627.60 276.32L654.00 249.92M627.60 288.04L654.00 261.64M627.60 299.76L654.00 273.36M627.60 311.48L654.00 285.08M627.60 323.20L654.00 296.80M627.60 334.92L654.00 308.52M627.60 346.64L654.00 320.24M627.60 358.36L654.00 331.96M627.60 370.08L654.00 343.68M627.60 381.80L654.00 355.40M627.60 393.52L654.00 367.12M627.60 405.24L654.00 378.84" stroke="#000" stroke-width="0.9"/></g>
<rect x="651.00" y="248.80" width="20.40" height="112.40" fill="#2e7d40" stroke="#000" stroke-width="0.6"/>
<text x="640.20" y="271.90" font-size="8" text-anchor="middle" font-weight="normal" fill="#141414" color="#141414">0.87</text>
<text x="660.60" y="245.80" font-size="8" text-anchor="middle" font-weight="normal" fill="#141414" color="#141414">0.95</text>
<line x1="651.00" y1="361.20" x2="651.00" y2="364.30" stroke="#8c8c8c" stroke-width="0.8"/>
<text x="417.40" y="374.60" font-size="8" text-anchor="middle" font-weight="normal" fill="#141414" color="#141414">Africa</text>
<text x="475.80" y="374.60" font-size="8" text-anchor="middle" font-weight="normal" fill="#141414" color="#141414">Americas</text>
<text x="534.20" y="374.60" font-size="8" text-anchor="middle" font-weight="normal" fill="#141414" color="#141414">Asia</text>
<text x="592.60" y="374.60" font-size="8" text-anchor="middle" font-weight="normal" fill="#141414" color="#141414">Europe</text>
<text x="651.00" y="374.60" font-size="8" text-anchor="middle" font-weight="normal" fill="#141414" color="#141414">Oceania</text>
<text x="534.20" y="387.70" font-size="8" text-anchor="middle" font-weight="normal" fill="#141414" color="#141414">Ancestry</text>
<text x="353.80" y="296.20" font-size="8" text-anchor="middle" font-weight="normal" fill="#141414" color="#141414" transform="rotate(-90 353.80 296.20)">Accuracy</text>
<text x="152.60" y="407.60" font-size="11" text-anchor="middle" font-weight="bold" fill="#000" color="#000" class="pl">c</text>
<rect x="280.00" y="403.40" width="14.20" height="3.90" fill="#e1cf3e"/>
<text x="298.40" y="408.30" font-size="8" text-anchor="start" font-weight="normal" fill="#141414" color="#141414">Rural</text>
<rect x="331.20" y="403.40" width="14.20" height="3.90" fill="#357a48"/>
<text x="349.30" y="408.30" font-size="8" text-anchor="start" font-weight="normal" fill="#141414" color="#141414">Urban</text>
<rect x="384.80" y="403.40" width="14.20" height="3.90" fill="#3d0b47"/>
<text x="403.20" y="408.30" font-size="8" text-anchor="start" font-weight="normal" fill="#141414" color="#141414">Unspecified</text>
<rect x="184.40" y="487.20" width="21.20" height="63.00" fill="#e1cf3e"/>
<text x="194.20" y="484.70" font-size="7.8" text-anchor="middle" font-weight="normal" fill="#141414" color="#141414">2,441</text>
<text x="194.20" y="475.10" font-size="7.8" text-anchor="middle" font-weight="normal" fill="#141414" color="#141414">0.47</text>
<rect x="205.60" y="509.30" width="21.20" height="40.90" fill="#357a48"/>
<text x="215.40" y="506.80" font-size="7.8" text-anchor="middle" font-weight="normal" fill="#141414" color="#141414">115</text>
<text x="215.40" y="497.20" font-size="7.8" text-anchor="middle" font-weight="normal" fill="#141414" color="#141414">0.30</text>
<rect x="226.80" y="519.10" width="21.20" height="31.10" fill="#3d0b47"/>
<text x="236.60" y="516.60" font-size="7.8" text-anchor="middle" font-weight="normal" fill="#141414" color="#141414">122</text>
<text x="236.60" y="507.00" font-size="7.8" text-anchor="middle" font-weight="normal" fill="#141414" color="#141414">0.23</text>
<rect x="255.25" y="524.50" width="21.20" height="25.70" fill="#e1cf3e"/>
<text x="265.05" y="522.00" font-size="7.8" text-anchor="middle" font-weight="normal" fill="#141414" color="#141414">1,590</text>
<text x="265.05" y="513.70" font-size="7.8" text-anchor="middle" font-weight="normal" fill="#141414" color="#141414">0.19</text>
<rect x="276.45" y="525.90" width="21.20" height="24.30" fill="#357a48"/>
<text x="286.25" y="523.40" font-size="7.8" text-anchor="middle" font-weight="normal" fill="#141414" color="#141414">1,820</text>
<text x="286.25" y="515.10" font-size="7.8" text-anchor="middle" font-weight="normal" fill="#141414" color="#141414">0.18</text>
<rect x="297.65" y="464.80" width="21.20" height="85.40" fill="#3d0b47"/>
<text x="307.45" y="462.30" font-size="7.8" text-anchor="middle" font-weight="normal" fill="#141414" color="#141414">91</text>
<text x="307.45" y="454.00" font-size="7.8" text-anchor="middle" font-weight="normal" fill="#141414" color="#141414">0.63</text>
<rect x="326.10" y="493.00" width="21.20" height="57.20" fill="#e1cf3e"/>
<text x="335.90" y="490.50" font-size="7.8" text-anchor="middle" font-weight="normal" fill="#141414" color="#141414">1,218</text>
<text x="335.90" y="482.20" font-size="7.8" text-anchor="middle" font-weight="normal" fill="#141414" color="#141414">0.42</text>
<rect x="347.30" y="529.10" width="21.20" height="21.10" fill="#357a48"/>
<text x="357.10" y="526.60" font-size="7.8" text-anchor="middle" font-weight="normal" fill="#141414" color="#141414">1,808</text>
<text x="357.10" y="518.30" font-size="7.8" text-anchor="middle" font-weight="normal" fill="#141414" color="#141414">0.16</text>
<rect x="368.50" y="493.00" width="21.20" height="57.20" fill="#3d0b47"/>
<text x="378.30" y="490.50" font-size="7.8" text-anchor="middle" font-weight="normal" fill="#141414" color="#141414">59</text>
<text x="378.30" y="482.20" font-size="7.8" text-anchor="middle" font-weight="normal" fill="#141414" color="#141414">0.42</text>
<rect x="396.95" y="525.00" width="21.20" height="25.20" fill="#e1cf3e"/>
<text x="406.75" y="522.50" font-size="7.8" text-anchor="middle" font-weight="normal" fill="#141414" color="#141414">405</text>
<text x="406.75" y="514.20" font-size="7.8" text-anchor="middle" font-weight="normal" fill="#141414" color="#141414">0.18</text>
<rect x="418.15" y="531.40" width="21.20" height="18.80" fill="#357a48"/>
<text x="427.95" y="528.90" font-size="7.8" text-anchor="middle" font-weight="normal" fill="#141414" color="#141414">678</text>
<text x="427.95" y="520.60" font-size="7.8" text-anchor="middle" font-weight="normal" fill="#141414" color="#141414">0.14</text>
<rect x="439.35" y="458.40" width="21.20" height="91.80" fill="#3d0b47"/>
<text x="449.15" y="455.90" font-size="7.8" text-anchor="middle" font-weight="normal" fill="#141414" color="#141414">19</text>
<text x="449.15" y="447.60" font-size="7.8" text-anchor="middle" font-weight="normal" fill="#141414" color="#141414">0.68</text>
<rect x="467.80" y="519.30" width="21.20" height="30.90" fill="#e1cf3e"/>
<text x="477.60" y="516.80" font-size="7.8" text-anchor="middle" font-weight="normal" fill="#141414" color="#141414">121</text>
<text x="477.60" y="508.50" font-size="7.8" text-anchor="middle" font-weight="normal" fill="#141414" color="#141414">0.23</text>
<rect x="489.00" y="540.40" width="21.20" height="9.80" fill="#357a48"/>
<text x="498.80" y="537.90" font-size="7.8" text-anchor="middle" font-weight="normal" fill="#141414" color="#141414">448</text>
<text x="498.80" y="529.60" font-size="7.8" text-anchor="middle" font-weight="normal" fill="#141414" color="#141414">0.07</text>
<rect x="510.20" y="455.20" width="21.20" height="95.00" fill="#3d0b47"/>
<text x="520.00" y="452.70" font-size="7.8" text-anchor="middle" font-weight="normal" fill="#141414" color="#141414">6</text>
<text x="520.00" y="444.40" font-size="7.8" text-anchor="middle" font-weight="normal" fill="#141414" color="#141414">0.70</text>
<line x1="180.80" y1="414.40" x2="180.80" y2="550.20" stroke="#8c8c8c" stroke-width="0.8"/>
<line x1="180.80" y1="550.20" x2="535.10" y2="550.20" stroke="#b4b4b4" stroke-width="1.0"/>
<line x1="177.50" y1="550.20" x2="180.80" y2="550.20" stroke="#8c8c8c" stroke-width="0.8"/>
<text x="174.00" y="553.00" font-size="8" text-anchor="end" font-weight="normal" fill="#141414" color="#141414">0</text>
<line x1="177.50" y1="523.10" x2="180.80" y2="523.10" stroke="#8c8c8c" stroke-width="0.8"/>
<text x="174.00" y="525.90" font-size="8" text-anchor="end" font-weight="normal" fill="#141414" color="#141414">0.2</text>
<line x1="177.50" y1="496.00" x2="180.80" y2="496.00" stroke="#8c8c8c" stroke-width="0.8"/>
<text x="174.00" y="498.80" font-size="8" text-anchor="end" font-weight="normal" fill="#141414" color="#141414">0.4</text>
<line x1="177.50" y1="468.90" x2="180.80" y2="468.90" stroke="#8c8c8c" stroke-width="0.8"/>
<text x="174.00" y="471.70" font-size="8" text-anchor="end" font-weight="normal" fill="#141414" color="#141414">0.6</text>
<line x1="177.50" y1="441.80" x2="180.80" y2="441.80" stroke="#8c8c8c" stroke-width="0.8"/>
<text x="174.00" y="444.60" font-size="8" text-anchor="end" font-weight="normal" fill="#141414" color="#141414">0.8</text>
<line x1="177.50" y1="414.70" x2="180.80" y2="414.70" stroke="#8c8c8c" stroke-width="0.8"/>
<text x="174.00" y="417.50" font-size="8" text-anchor="end" font-weight="normal" fill="#141414" color="#141414">1.0</text>
<line x1="216.20" y1="550.20" x2="216.20" y2="553.30" stroke="#8c8c8c" stroke-width="0.8"/>
<line x1="287.05" y1="550.20" x2="287.05" y2="553.30" stroke="#8c8c8c" stroke-width="0.8"/>
<line x1="357.90" y1="550.20" x2="357.90" y2="553.30" stroke="#8c8c8c" stroke-width="0.8"/>
<line x1="428.75" y1="550.20" x2="428.75" y2="553.30" stroke="#8c8c8c" stroke-width="0.8"/>
<line x1="499.60" y1="550.20" x2="499.60" y2="553.30" stroke="#8c8c8c" stroke-width="0.8"/>
<text x="216.20" y="563.20" font-size="8" text-anchor="middle" font-weight="normal" fill="#141414" color="#141414">Africa</text>
<text x="287.05" y="563.20" font-size="8" text-anchor="middle" font-weight="normal" fill="#141414" color="#141414">Americas</text>
<text x="357.90" y="563.20" font-size="8" text-anchor="middle" font-weight="normal" fill="#141414" color="#141414">Asia</text>
<text x="428.75" y="563.20" font-size="8" text-anchor="middle" font-weight="normal" fill="#141414" color="#141414">Europe</text>
<text x="499.60" y="563.20" font-size="8" text-anchor="middle" font-weight="normal" fill="#141414" color="#141414">Oceania</text>
<text x="357.90" y="575.50" font-size="8" text-anchor="middle" font-weight="normal" fill="#141414" color="#141414">Ancestry</text>
<text x="155.80" y="484.00" font-size="8" text-anchor="middle" font-weight="normal" fill="#141414" color="#141414" transform="rotate(-90 155.80 484.00)">Probability of scene type</text></svg>
</body></html>
